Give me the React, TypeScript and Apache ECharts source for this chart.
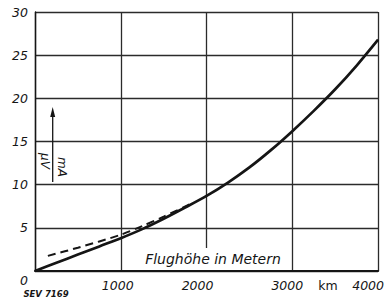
import React, { useEffect, useRef } from 'react';
import * as echarts from 'echarts';

// Flight altitude (m) and signal (µV/mA), solid curve
const altitude = [0, 250, 500, 750, 1000, 1250, 1500, 1750, 2000, 2250, 2500, 2750, 3000, 3250, 3500, 3750, 4000];
const signal = [0, 0.95, 1.9, 2.85, 3.8, 4.85, 6.05, 7.35, 8.7, 10.25, 12.0, 14.0, 16.2, 18.55, 21.05, 23.8, 26.8];

// Dashed curve
const dashedAltitude = [150, 500, 1000, 1250, 1500, 1800];
const dashedSignal = [1.75, 2.7, 4.2, 5.2, 6.3, 7.7];

const xTickLabels = ['0', '1000', '2000', '3000', '4000'];
const yTickLabels = ['', '5', '10', '15', '20', '25', '30'];
const xUnit = 'km';
const xTitle = 'Flughöhe in Metern';
const yUnitNum = 'μV';
const yUnitDen = 'mA';
const sourceTag = 'SEV 7169';

const FONT = '"DejaVu Sans", sans-serif';
const INK = '#151515';

// per-label horizontal nudge (right padding, px) to mimic hand lettering
const xLabelPad = [0, 6, 18, 10, 20];

export default function App() {
  const ref = useRef<HTMLDivElement>(null);

  useEffect(() => {
    if (!ref.current) return;
    const chart = echarts.init(ref.current, undefined, { renderer: 'svg' });

    const rich: Record<string, any> = {};
    xLabelPad.forEach((p, i) => {
      rich['s' + i] = {
        padding: [0, p, 0, 0],
        fontFamily: FONT,
        fontStyle: 'italic',
        fontSize: 12.5,
        color: INK,
      };
    });

    const option: any = {
      animation: false,
      backgroundColor: '#ffffff',
      grid: { left: 35, right: 7, top: 12, bottom: 29, containLabel: false },
      xAxis: {
        type: 'value',
        min: 0,
        max: 4000,
        interval: 1000,
        axisLine: { show: true, onZero: false, lineStyle: { color: INK, width: 2.2 } },
        axisTick: { show: false },
        splitLine: { show: true, lineStyle: { color: '#2b2b2b', width: 1.3 } },
        axisLabel: {
          margin: 8,
          formatter: (v: number) => {
            const i = Math.round(v / 1000);
            if (i === 0) return '';
            return `{s${i}|${xTickLabels[i] ?? ''}}`;
          },
          rich,
        },
      },
      yAxis: {
        type: 'value',
        min: 0,
        max: 30,
        interval: 5,
        axisLine: { show: true, onZero: false, lineStyle: { color: INK, width: 1.4 } },
        axisTick: { show: false },
        splitLine: { show: true, lineStyle: { color: '#2b2b2b', width: 1.3 } },
        axisLabel: {
          margin: 7,
          fontFamily: FONT,
          fontStyle: 'italic',
          fontSize: 12.5,
          color: INK,
          formatter: (v: number) => yTickLabels[Math.round(v / 5)] ?? '',
        },
      },
      series: [
        {
          type: 'line',
          data: altitude.map((a, i) => [a, signal[i]]),
          smooth: 0.3,
          showSymbol: false,
          lineStyle: { color: INK, width: 2.7 },
          z: 5,
        },
        {
          type: 'line',
          data: dashedAltitude.map((a, i) => [a, dashedSignal[i]]),
          smooth: 0.3,
          showSymbol: false,
          lineStyle: { color: INK, width: 2, type: [8, 5] },
          z: 4,
        },
      ],
      graphic: [
        {
          type: 'text',
          x: 213,
          y: 259,
          z: 20,
          style: {
            text: xTitle,
            align: 'center',
            verticalAlign: 'middle',
            font: `italic 14px ${FONT}`,
            fill: INK,
            backgroundColor: '#ffffff',
            padding: [5, 3, 3, 3],
            lineHeight: 14,
          },
        },
        {
          type: 'text',
          x: 24,
          y: 280,
          z: 20,
          style: {
            text: xTickLabels[0],
            align: 'center',
            verticalAlign: 'middle',
            font: `italic 12.5px ${FONT}`,
            fill: INK,
          },
        },
        {
          type: 'text',
          x: 328,
          y: 285,
          z: 20,
          style: {
            text: xUnit,
            align: 'center',
            verticalAlign: 'middle',
            font: `12.5px ${FONT}`,
            fill: INK,
          },
        },
        {
          type: 'text',
          x: 46,
          y: 294,
          z: 20,
          style: {
            text: sourceTag,
            align: 'center',
            verticalAlign: 'middle',
            font: `italic bold 8.5px ${FONT}`,
            fill: INK,
          },
        },
        {
          type: 'line',
          z: 20,
          shape: { x1: 52.7, y1: 113, x2: 52.7, y2: 182 },
          style: { stroke: INK, lineWidth: 1.3 },
        },
        {
          type: 'polygon',
          z: 20,
          shape: { points: [[52.7, 107], [50.2, 117], [55.2, 117]] },
          style: { fill: INK },
        },
        {
          type: 'text',
          x: 45,
          y: 161,
          rotation: -Math.PI / 2,
          z: 20,
          style: {
            text: yUnitNum,
            align: 'center',
            verticalAlign: 'middle',
            font: `italic 12px ${FONT}`,
            fill: INK,
          },
        },
        {
          type: 'text',
          x: 62,
          y: 167,
          rotation: -Math.PI / 2,
          z: 20,
          style: {
            text: yUnitDen,
            align: 'center',
            verticalAlign: 'middle',
            font: `italic 12px ${FONT}`,
            fill: INK,
          },
        },
      ],
    };

    chart.setOption(option);
    return () => chart.dispose();
  }, []);

  return (
    <div
      ref={ref}
      style={{ position: 'fixed', left: 0, top: 0, width: 387, height: 300, background: '#fff' }}
    />
  );
}
